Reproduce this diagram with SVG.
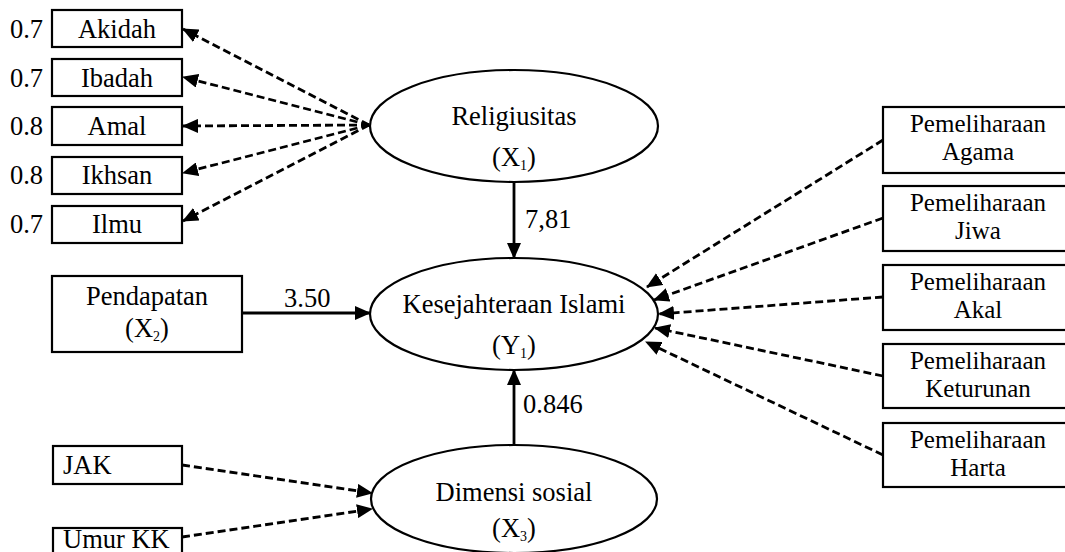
<svg xmlns="http://www.w3.org/2000/svg" width="1065" height="552" viewBox="0 0 1065 552">
<style>
text{font-family:'Liberation Serif',Tinos,'DejaVu Serif',serif;font-size:26.5px;fill:#000}
.c{text-anchor:middle}
.e{text-anchor:end}
.r{font-size:25px}
.sub{font-size:14px}
.box{fill:#fff;stroke:#000;stroke-width:2.2}
.ell{fill:#fff;stroke:#000;stroke-width:2.2}
.solid{stroke:#000;stroke-width:2.8;fill:none}
.dash{stroke:#000;stroke-width:2.8;fill:none;stroke-dasharray:8 4}
</style>
<defs>
<marker id="ah" markerUnits="userSpaceOnUse" markerWidth="16" markerHeight="14" refX="15" refY="7" orient="auto" viewBox="0 0 16 14">
<path d="M0,0 L16,7 L0,14 z" fill="#000"/>
</marker>
</defs>

<g id="connectors">
<line class="dash" x1="369" y1="125" x2="183" y2="29" marker-end="url(#ah)"/>
<line class="dash" x1="369" y1="125" x2="183" y2="77" marker-end="url(#ah)"/>
<line class="dash" x1="369" y1="125" x2="183" y2="126" marker-end="url(#ah)"/>
<line class="dash" x1="369" y1="125" x2="183" y2="173" marker-end="url(#ah)"/>
<line class="dash" x1="369" y1="125" x2="183" y2="221" marker-end="url(#ah)"/>
<line class="solid" x1="514" y1="182" x2="514" y2="258" marker-end="url(#ah)"/>
<line class="solid" x1="242" y1="313" x2="370" y2="313" marker-end="url(#ah)"/>
<line class="solid" x1="514" y1="445" x2="514" y2="370" marker-end="url(#ah)"/>
<line class="dash" x1="883" y1="140" x2="647" y2="287" marker-end="url(#ah)"/>
<line class="dash" x1="883" y1="218" x2="654" y2="300" marker-end="url(#ah)"/>
<line class="dash" x1="883" y1="297" x2="659" y2="314" marker-end="url(#ah)"/>
<line class="dash" x1="883" y1="376" x2="655" y2="328" marker-end="url(#ah)"/>
<line class="dash" x1="883" y1="455" x2="646" y2="342" marker-end="url(#ah)"/>
<line class="dash" x1="182" y1="465" x2="372" y2="493" marker-end="url(#ah)"/>
<line class="dash" x1="182" y1="537" x2="372" y2="509" marker-end="url(#ah)"/>
<text x="525" y="228">7,81</text>
<text x="284" y="307">3.50</text>
<text x="523" y="413">0.846</text>
</g>

<g id="akidah"><rect class="box" x="52" y="10" width="130" height="37"/><text class="c" x="117" y="38">Akidah</text><text class="e" x="43" y="38">0.7</text></g>
<g id="ibadah"><rect class="box" x="52" y="59" width="130" height="37"/><text class="c" x="117" y="87">Ibadah</text><text class="e" x="43" y="87">0.7</text></g>
<g id="amal"><rect class="box" x="52" y="107" width="130" height="38"/><text class="c" x="117" y="135">Amal</text><text class="e" x="43" y="135">0.8</text></g>
<g id="ikhsan"><rect class="box" x="52" y="157" width="130" height="37"/><text class="c" x="117" y="184">Ikhsan</text><text class="e" x="43" y="184">0.8</text></g>
<g id="ilmu"><rect class="box" x="52" y="206" width="130" height="37"/><text class="c" x="117" y="233">Ilmu</text><text class="e" x="43" y="233">0.7</text></g>

<g id="religiusitas"><ellipse class="ell" cx="514" cy="126" rx="144" ry="56"/><text class="c" x="514" y="125">Religiusitas</text><text class="c" x="514" y="166">(X<tspan class="sub" dy="4">1</tspan><tspan dy="-4">)</tspan></text></g>

<g id="pendapatan"><rect class="box" x="52" y="276" width="190" height="76"/><text class="c" x="147" y="305">Pendapatan</text><text class="c" x="147" y="337">(X<tspan class="sub" dy="4">2</tspan><tspan dy="-4">)</tspan></text></g>

<g id="kesejahteraan"><ellipse class="ell" cx="514" cy="314" rx="144" ry="56"/><text class="c" x="514" y="313">Kesejahteraan Islami</text><text class="c" x="514" y="354">(Y<tspan class="sub" dy="4">1</tspan><tspan dy="-4">)</tspan></text></g>

<g id="dimensi"><ellipse class="ell" cx="514" cy="499" rx="143" ry="54"/><text class="c" x="514" y="501">Dimensi sosial</text><text class="c" x="514" y="537">(X<tspan class="sub" dy="4">3</tspan><tspan dy="-4">)</tspan></text></g>

<g id="jak"><rect class="box" x="53" y="446" width="129" height="38"/><text x="63" y="474">JAK</text></g>
<g id="umurkk"><rect class="box" x="53" y="528" width="129" height="40"/><text x="63" y="548">Umur KK</text></g>

<g id="agama"><rect class="box" x="883" y="107" width="190" height="66"/><text class="c r" x="978" y="132">Pemeliharaan</text><text class="c r" x="978" y="160">Agama</text></g>
<g id="jiwa"><rect class="box" x="883" y="186" width="190" height="65"/><text class="c r" x="978" y="211">Pemeliharaan</text><text class="c r" x="978" y="239">Jiwa</text></g>
<g id="akal"><rect class="box" x="883" y="265" width="190" height="65"/><text class="c r" x="978" y="290">Pemeliharaan</text><text class="c r" x="978" y="318">Akal</text></g>
<g id="keturunan"><rect class="box" x="883" y="344" width="190" height="64"/><text class="c r" x="978" y="369">Pemeliharaan</text><text class="c r" x="978" y="397">Keturunan</text></g>
<g id="harta"><rect class="box" x="883" y="423" width="190" height="64"/><text class="c r" x="978" y="448">Pemeliharaan</text><text class="c r" x="978" y="476">Harta</text></g>
</svg>
